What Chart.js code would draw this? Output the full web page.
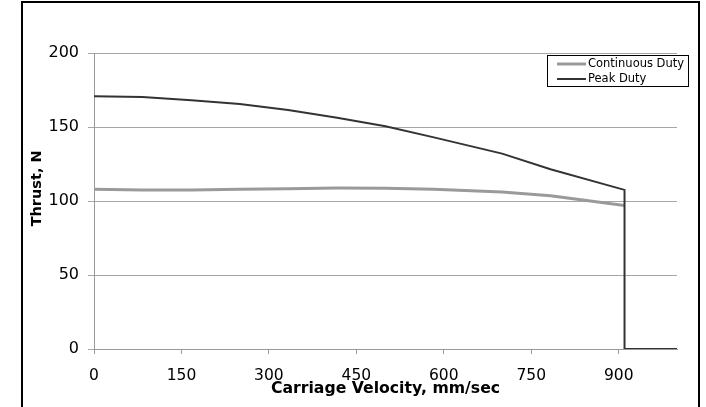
<!DOCTYPE html>
<html>
<head>
<meta charset="utf-8">
<script src="https://cdn.jsdelivr.net/npm/chart.js@4.4.1/dist/chart.umd.min.js"></script>
<style>
    html, body { margin: 0; padding: 0; background: #fff; overflow: hidden; }
    #wrap { width: 706px; height: 407px; }
</style>
</head>
<body>
<div id="wrap"><canvas id="thrustChart" width="706" height="407"></canvas></div>
<script>
// velocity points (mm/sec)
var velContinuous = [0, 83, 167, 250, 333, 417, 500, 583, 700, 783, 910];
var thrustContinuous = [108, 107.5, 107.5, 108, 108.3, 108.7, 108.6, 108, 106, 103.5, 97];

var velPeak = [0, 83, 167, 250, 333, 417, 500, 583, 700, 783, 910, 910, 1000];
var thrustPeak = [170.7, 170.3, 168, 165.5, 161.5, 156.3, 150.5, 143, 132, 121.5, 107.5, 0, 0];

var seriesNames = ["Continuous Duty", "Peak Duty"];
var xTicks = [0, 150, 300, 450, 600, 750, 900];
var yTicks = [0, 50, 100, 150, 200];

var FONT = "'DejaVu Sans', sans-serif";

function toPoints(xs, ys) {
    var pts = [];
    for (var i = 0; i < xs.length; i++) {
        pts.push({ x: xs[i], y: ys[i] });
    }
    return pts;
}

// outer frame + legend box inside the plot
var framePlugin = {
    id: "frame",
    beforeDraw: function (chart) {
        var ctx = chart.ctx;
        ctx.save();
        ctx.fillStyle = "#fff";
        ctx.fillRect(0, 0, chart.width, chart.height);
        ctx.restore();
    },
    afterDraw: function (chart) {
        var ctx = chart.ctx;
        ctx.save();
        ctx.strokeStyle = "#000";
        ctx.lineWidth = 2;
        ctx.strokeRect(22, 2, 677, 430);

        // legend
        var bx = 547.5, by = 55.5, bw = 141, bh = 31;
        ctx.fillStyle = "#fff";
        ctx.fillRect(bx, by, bw, bh);
        ctx.lineWidth = 1;
        ctx.strokeStyle = "#000";
        ctx.strokeRect(bx, by, bw, bh);
        ctx.font = "11.5px " + FONT;
        ctx.textBaseline = "middle";
        ctx.textAlign = "left";
        chart.data.datasets.forEach(function (ds, i) {
            var yy = 64 + i * 15;
            ctx.strokeStyle = ds.borderColor;
            ctx.lineWidth = ds.borderWidth;
            ctx.beginPath();
            ctx.moveTo(557, yy);
            ctx.lineTo(586, yy);
            ctx.stroke();
            ctx.fillStyle = "#000";
            ctx.fillText(ds.label, 588, yy);
        });
        ctx.restore();
    }
};

new Chart(document.getElementById("thrustChart").getContext("2d"), {
    type: "scatter",
    data: {
        datasets: [
            {
                label: seriesNames[0],
                data: toPoints(velContinuous, thrustContinuous),
                showLine: true,
                borderColor: "#9a9a9a",
                borderWidth: 3,
                pointRadius: 0,
                tension: 0,
                order: 1
            },
            {
                label: seriesNames[1],
                data: toPoints(velPeak, thrustPeak),
                showLine: true,
                borderColor: "#333333",
                borderWidth: 2,
                pointRadius: 0,
                tension: 0,
                order: 0
            }
        ]
    },
    options: {
        responsive: false,
        animation: false,
        devicePixelRatio: 1,
        layout: { padding: { top: 53, right: 29, left: 0, bottom: 0 } },
        plugins: {
            legend: { display: false },
            tooltip: { enabled: false }
        },
        scales: {
            x: {
                type: "linear",
                min: 0,
                max: 1000,
                afterFit: function (scale) { scale.height = 58; },
                afterBuildTicks: function (scale) {
                    scale.ticks = xTicks.map(function (v) { return { value: v }; });
                },
                ticks: {
                    color: "#000",
                    padding: 13,
                    maxRotation: 0,
                    font: { family: FONT, size: 15.5 }
                },
                grid: {
                    drawOnChartArea: false,
                    drawTicks: true,
                    tickLength: 5,
                    color: "#999"
                },
                border: { display: true, color: "#999", width: 1 },
                title: {
                    display: true,
                    text: "Carriage Velocity, mm/sec",
                    color: "#000",
                    font: { family: FONT, size: 15.7, weight: "bold" },
                    padding: { top: 0, bottom: 9 }
                }
            },
            y: {
                min: 0,
                max: 200,
                afterFit: function (scale) { scale.width = 94; },
                afterBuildTicks: function (scale) {
                    scale.ticks = yTicks.map(function (v) { return { value: v }; });
                },
                ticks: {
                    color: "#000",
                    padding: 9,
                    font: { family: FONT, size: 16 }
                },
                grid: {
                    color: "#a6a6a6",
                    tickLength: 6,
                    drawTicks: true
                },
                border: { display: true, color: "#999", width: 1 },
                title: {
                    display: true,
                    text: "     Thrust, N",
                    color: "#000",
                    font: { family: FONT, size: 14.5, weight: "bold" },
                    padding: { top: 29, bottom: 0 }
                }
            }
        }
    },
    plugins: [framePlugin]
});
</script>
</body>
</html>
